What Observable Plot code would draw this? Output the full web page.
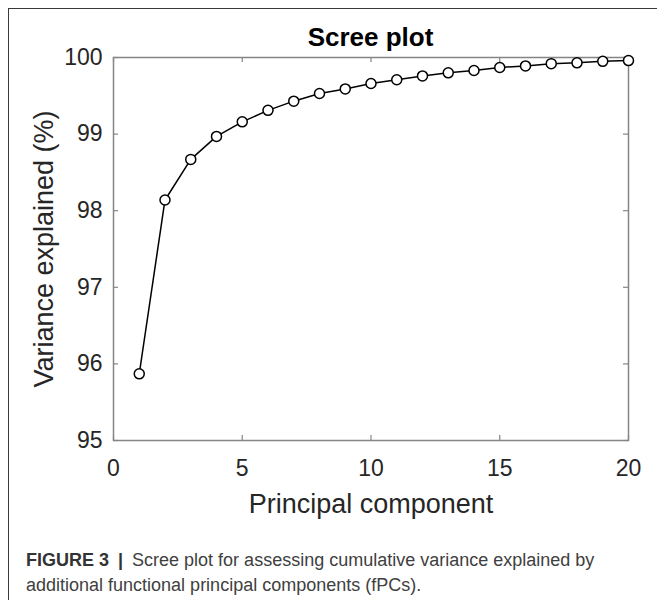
<!DOCTYPE html>
<html>
<head>
<meta charset="utf-8">
<script src="https://cdn.jsdelivr.net/npm/d3@7"></script>
<script src="https://cdn.jsdelivr.net/npm/@observablehq/plot@0.6"></script>
<style>
  html, body { margin: 0; padding: 0; background: #fff; overflow: hidden; }
  #wrap { position: relative; width: 657px; height: 600px; overflow: hidden; }
  #frame { position: absolute; left: 8px; top: 8px; width: 700px; height: 700px;
           border-left: 1.5px solid #3a3a3a; border-top: 1.5px solid #3a3a3a; }
  #chart { position: absolute; left: 0; top: 0; }
  #title { position: absolute; left: 113px; width: 515px; top: 22px; text-align: center;
           font-family: "Liberation Sans", Arial, sans-serif; font-weight: bold; font-size: 26px;
           color: #000; line-height: 30px; }
  .cap { position: absolute; font-family: "Liberation Sans", Arial, sans-serif;
         font-size: 18px; line-height: 22px; white-space: nowrap; color: #404040; }
  #capLead { left: 26px; top: 549px; font-weight: bold; color: #333; }
  #capSep { top: 549px; font-weight: bold; color: #333; }
  #capLine1 { top: 549px; }
  #capLine2 { left: 26px; top: 574px; }
</style>
</head>
<body>
<div id="wrap">
  <div id="frame"></div>
  <div id="chart"></div>
  <div id="title"></div>
  <span id="capLead" class="cap"></span>
  <span id="capSep" class="cap"></span>
  <span id="capLine1" class="cap"></span>
  <span id="capLine2" class="cap"></span>
</div>
<script>
// ---- data ----
const titleText = "Scree plot";
const component = [1, 2, 3, 4, 5, 6, 7, 8, 9, 10, 11, 12, 13, 14, 15, 16, 17, 18, 19, 20];
const varianceExplained = [95.87, 98.14, 98.67, 98.97, 99.16, 99.31, 99.43, 99.53, 99.59, 99.66,
                           99.71, 99.76, 99.80, 99.83, 99.87, 99.89, 99.92, 99.93, 99.95, 99.96];
const xTicks = [0, 5, 10, 15, 20];
const yTicks = [95, 96, 97, 98, 99, 100];
const xLabel = ["Principal component"];
const yLabel = ["Variance explained (%)"];
const captionLead = "FIGURE 3";
const captionSep = "|";
const captionLines = ["Scree plot for assessing cumulative variance explained by",
                      "additional functional principal components (fPCs)."];

const data = component.map((c, i) => ({pc: c, v: varianceExplained[i]}));

const W = 657, H = 530, mT = 57, mB = 90, mL = 113, mR = 29;
const frameH = H - mT - mB;
const tickLen = 5;
const axisColor = "#858585";
const textColor = "#262626";

const plot = Plot.plot({
  width: W, height: H,
  marginTop: mT, marginBottom: mB, marginLeft: mL, marginRight: mR,
  style: {fontFamily: "'Liberation Sans', Arial, sans-serif", background: "transparent", overflow: "visible"},
  x: {domain: [0, 20]},
  y: {domain: [95, 100]},
  marks: [
    Plot.frame({stroke: axisColor, strokeWidth: 1.5}),
    // inward ticks (bottom / top)
    Plot.tickX(xTicks, {x: d => d, stroke: axisColor, strokeWidth: 1.2, insetTop: frameH - tickLen}),
    Plot.tickX(xTicks, {x: d => d, stroke: axisColor, strokeWidth: 1.2, insetBottom: frameH - tickLen}),
    // inward ticks (left / right)
    Plot.tickY(yTicks, {y: d => d, stroke: axisColor, strokeWidth: 1.2, insetRight: (W - mL - mR) - tickLen}),
    Plot.tickY(yTicks, {y: d => d, stroke: axisColor, strokeWidth: 1.2, insetLeft: (W - mL - mR) - tickLen}),
    Plot.axisX({ticks: xTicks, tickFormat: d => String(d), tickSize: 0, tickPadding: 19, fontSize: 23, color: textColor, label: null}),
    Plot.axisY({ticks: yTicks, tickFormat: d => String(d), tickSize: 0, tickPadding: 11, fontSize: 23, color: textColor, label: null}),
    Plot.text(xLabel, {text: d => d, frameAnchor: "bottom", textAnchor: "middle", dy: 72, fontSize: 27, fill: textColor}),
    Plot.text(yLabel, {text: d => d, frameAnchor: "left", textAnchor: "middle", rotate: -90, dx: -69, fontSize: 27, fill: textColor}),
    Plot.line(data, {x: "pc", y: "v", stroke: "#000", strokeWidth: 1.5}),
    Plot.dot(data, {x: "pc", y: "v", r: 5, fill: "#fff", stroke: "#000", strokeWidth: 1.5})
  ]
});
document.getElementById("chart").appendChild(plot);
document.getElementById("title").textContent = titleText;

// caption: lead, separator and two lines as sibling elements
const lead = document.getElementById("capLead");
lead.textContent = captionLead;
const leadW = lead.getBoundingClientRect().width;
const sep = document.getElementById("capSep");
sep.textContent = captionSep;
const sepLeft = 26 + leadW + 9;
sep.style.left = sepLeft + "px";
const sepW = sep.getBoundingClientRect().width;
const l1 = document.getElementById("capLine1");
l1.textContent = captionLines[0];
l1.style.left = (sepLeft + sepW + 9) + "px";
document.getElementById("capLine2").textContent = captionLines[1];
</script>
</body>
</html>
